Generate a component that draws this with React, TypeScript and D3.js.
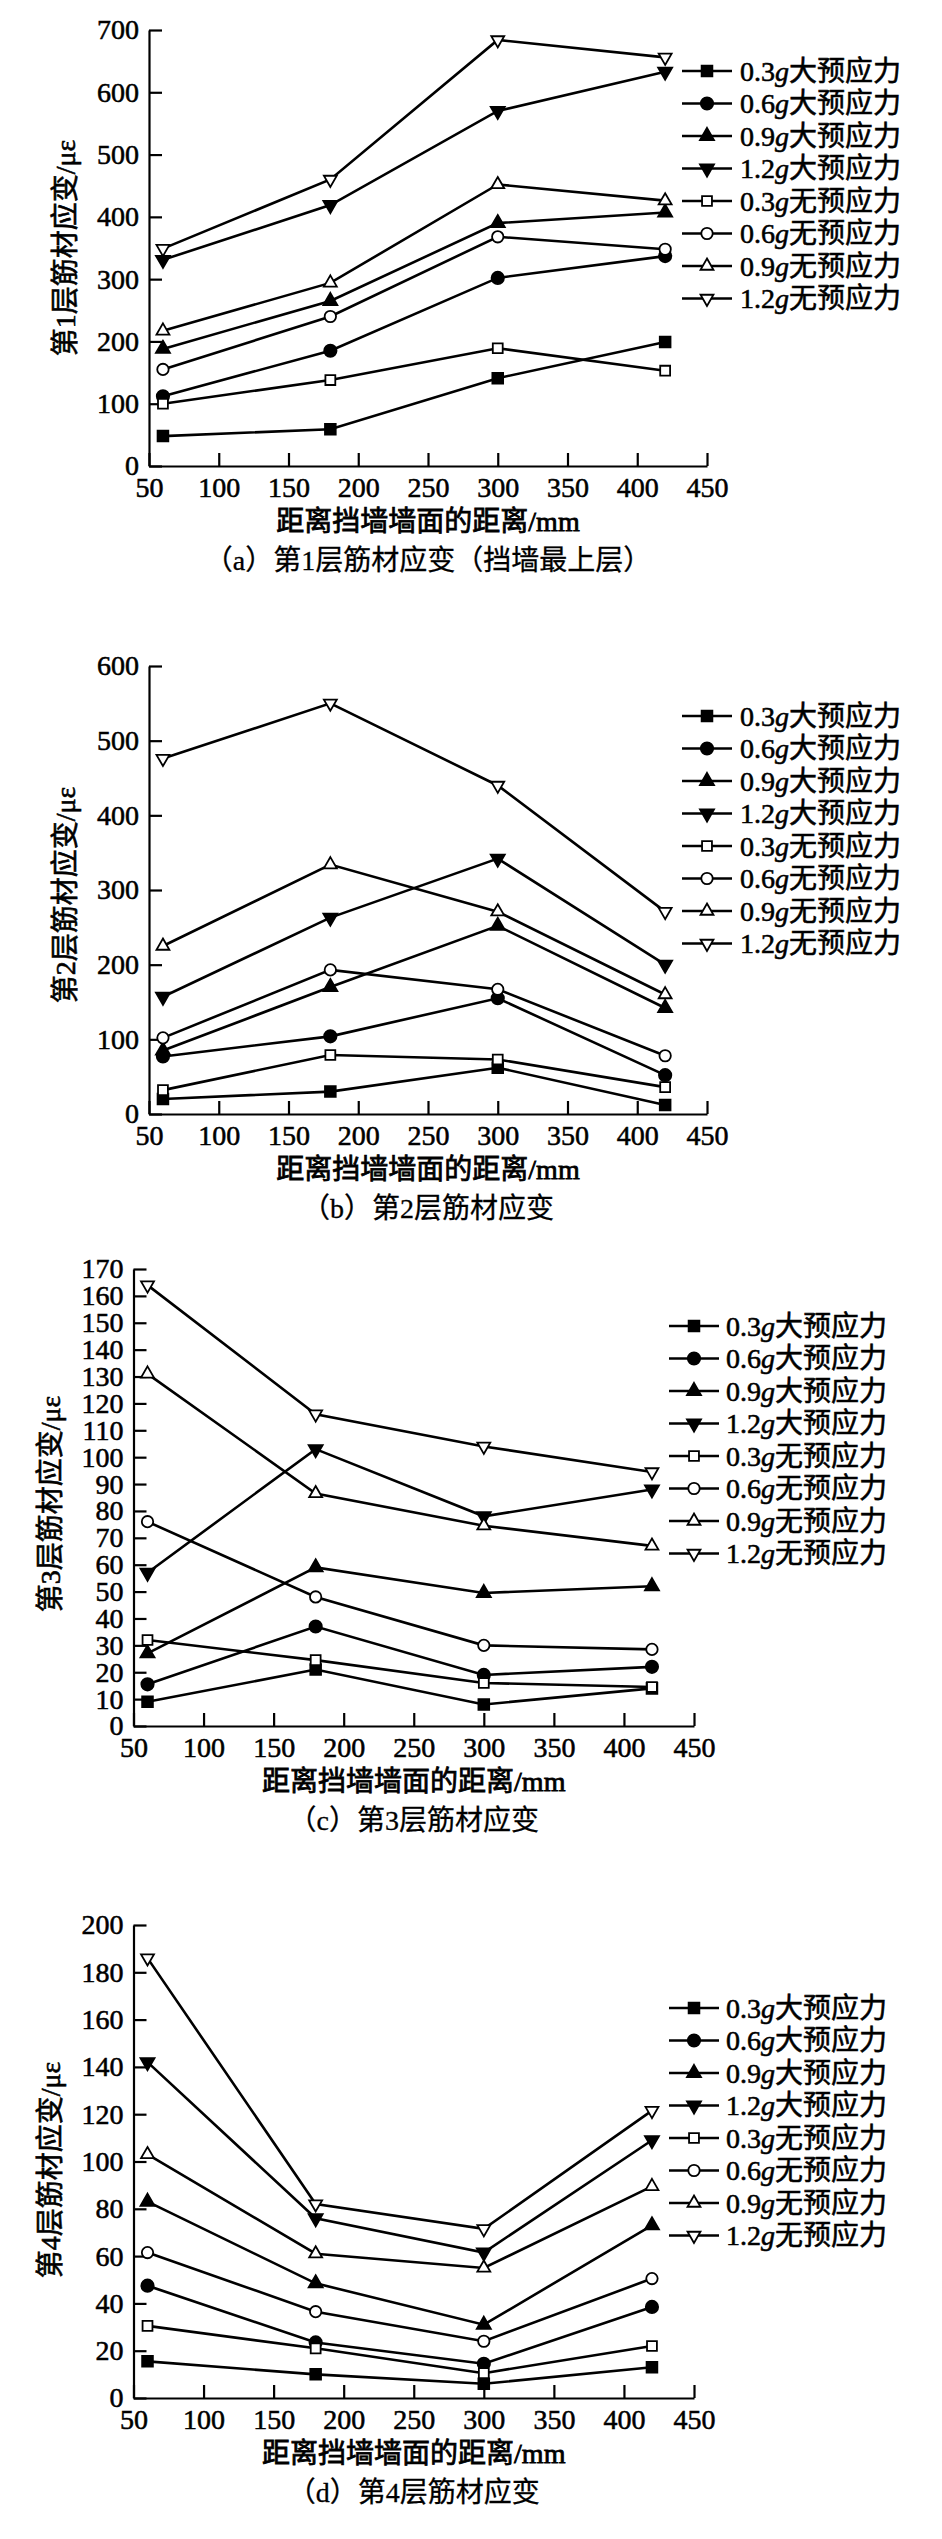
import React, { useRef, useEffect } from "react";
import * as d3 from "d3";

// distance from the retaining wall face (mm)
const distances = [60, 180, 300, 420];
const xTickValues = [50, 100, 150, 200, 250, 300, 350, 400, 450];

const accelerations = ["0.3", "0.6", "0.9", "1.2"];
const prestressLabels = ["大预应力", "无预应力"];

// series order: 0.3g/0.6g/0.9g/1.2g 大预应力, then 0.3g/0.6g/0.9g/1.2g 无预应力
const layer1Strain = [
  [48, 59, 141, 199],
  [112, 185, 302, 337],
  [188, 265, 390, 407],
  [331, 419, 570, 633],
  [100, 138, 189, 153],
  [155, 240, 368, 348],
  [217, 294, 452, 426],
  [349, 460, 684, 656],
];

const layer2Strain = [
  [20, 30, 62, 12],
  [77, 104, 155, 52],
  [85, 170, 252, 142],
  [157, 263, 342, 200],
  [32, 79, 73, 36],
  [102, 193, 167, 78],
  [225, 334, 271, 160],
  [476, 550, 440, 271],
];

const layer3Strain = [
  [9, 21, 8, 14],
  [15.5, 37, 19, 22],
  [27, 59, 49.5, 52],
  [57, 103, 78, 88],
  [32, 24.5, 16, 14.5],
  [76, 48, 30, 28.5],
  [131, 86.5, 74.5, 67],
  [164, 116, 104, 94.5],
];

const layer4Strain = [
  [15.5, 10, 6, 13],
  [47.5, 23.5, 14.5, 38.5],
  [83, 48.5, 31, 73],
  [142, 76, 61.5, 109],
  [30.5, 21, 10.5, 22],
  [61.5, 36.5, 24, 50.5],
  [103, 61, 55, 89.5],
  [186, 82, 71.5, 121.5],
];

const yAxisTitles = ["第1层筋材应变/με", "第2层筋材应变/με", "第3层筋材应变/με", "第4层筋材应变/με"];
const captions = [
  "（a）第1层筋材应变（挡墙最上层）",
  "（b）第2层筋材应变",
  "（c）第3层筋材应变",
  "（d）第4层筋材应变",
];
const xAxisTitle = "距离挡墙墙面的距离/mm";
const yMaxValues = [700, 600, 170, 200];
const yStepValues = [100, 100, 10, 20];

const FONT = "'Liberation Serif', 'Noto Sans CJK SC', serif";

// where each panel sits on the page
const panels = [
  { left: 149, right: 707, top: 30, bottom: 466, legendX: 707, legendTextX: 740, legendY: 71, yTitleX: 65, yTitleY: 248 },
  { left: 149, right: 707, top: 666, bottom: 1114, legendX: 707, legendTextX: 740, legendY: 716, yTitleX: 65, yTitleY: 895 },
  { left: 133.5, right: 694, top: 1269, bottom: 1726, legendX: 694, legendTextX: 726, legendY: 1326, yTitleX: 50, yTitleY: 1504 },
  { left: 133.5, right: 694, top: 1925, bottom: 2398, legendX: 694, legendTextX: 726, legendY: 2008, yTitleX: 50, yTitleY: 2170 },
];

const symbolShapes = [d3.symbolSquare, d3.symbolCircle, d3.symbolTriangle, d3.symbolTriangle];
const symbolSizes = [115, 120, 85, 85];

export default function App() {
  const svgRef = useRef<SVGSVGElement>(null);

  useEffect(() => {
    if (!svgRef.current) return;
    const svg = d3.select(svgRef.current);
    svg.selectAll("*").remove();

    const layers = [layer1Strain, layer2Strain, layer3Strain, layer4Strain];

    const drawMarker = (sel: any, idx: number, cx: number, cy: number) => {
      const shape = idx % 4;
      const filled = idx < 4;
      const rot = shape === 3 ? 180 : 0;
      sel
        .append("path")
        .attr("d", d3.symbol().type(symbolShapes[shape]).size(symbolSizes[shape] * (filled ? 1 : 0.85))())
        .attr("transform", `translate(${cx},${cy}) rotate(${rot})`)
        .attr("fill", filled ? "#000" : "#fff")
        .attr("stroke", "#000")
        .attr("stroke-width", 1.8);
    };

    // scanned text looks heavier than plain glyphs: thicken with a thin outline
    const heavy = (t: any, w = 0.55) => t.attr("stroke", "#000").attr("stroke-width", w).attr("fill", "#000");

    layers.forEach((series, pi) => {
      const p = panels[pi];
      const yMax = yMaxValues[pi];
      const step = yStepValues[pi];

      const x = d3.scaleLinear().domain([50, 450]).range([p.left, p.right]);
      const y = d3.scaleLinear().domain([0, yMax]).range([p.bottom, p.top]);

      const g = svg.append("g");

      // x axis, ticks pointing inwards
      const xAxis = g
        .append("g")
        .attr("transform", `translate(0,${p.bottom})`)
        .call(d3.axisBottom(x).tickValues(xTickValues).tickSize(-13).tickSizeOuter(0).tickPadding(11));
      xAxis.attr("font-size", 28).attr("font-family", FONT);
      xAxis.selectAll("path, line").attr("stroke", "#000").attr("stroke-width", 2.2);
      heavy(xAxis.selectAll("text"));

      // y axis
      const yAxis = g
        .append("g")
        .attr("transform", `translate(${p.left},0)`)
        .call(
          d3.axisLeft(y)
            .tickValues(d3.range(0, yMax + step / 2, step))
            .tickSize(-13)
            .tickSizeOuter(0)
            .tickPadding(10)
        );
      yAxis.attr("font-size", 28).attr("font-family", FONT);
      yAxis.selectAll("path, line").attr("stroke", "#000").attr("stroke-width", 2.2);
      heavy(yAxis.selectAll("text"));

      // lines
      const line = d3
        .line<number>()
        .x((_, i) => x(distances[i]))
        .y((d) => y(d));

      series.forEach((vals) => {
        g.append("path")
          .datum(vals)
          .attr("fill", "none")
          .attr("stroke", "#000")
          .attr("stroke-width", 2.6)
          .attr("d", line);
      });

      // markers on top
      series.forEach((vals, si) => {
        vals.forEach((v, i) => drawMarker(g, si, x(distances[i]), y(v)));
      });

      // legend
      series.forEach((_, si) => {
        const ly = p.legendY + si * 32.5;
        g.append("line")
          .attr("x1", p.legendX - 25)
          .attr("x2", p.legendX + 25)
          .attr("y1", ly)
          .attr("y2", ly)
          .attr("stroke", "#000")
          .attr("stroke-width", 2.6);
        drawMarker(g, si, p.legendX, ly);
        const t = g
          .append("text")
          .attr("x", p.legendTextX)
          .attr("y", ly)
          .attr("dy", "0.35em")
          .attr("font-size", 28)
          .attr("font-family", FONT);
        heavy(t);
        t.append("tspan").text(accelerations[si % 4]);
        t.append("tspan").attr("font-style", "italic").text("g");
        t.append("tspan").text(prestressLabels[si < 4 ? 0 : 1]);
      });

      // axis titles and caption
      const cx = (p.left + p.right) / 2;
      heavy(
        g.append("text")
          .attr("x", cx)
          .attr("y", p.bottom + 65)
          .attr("text-anchor", "middle")
          .attr("font-size", 28)
          .attr("font-family", FONT)
          .text(xAxisTitle),
        0.8
      );

      heavy(
        g.append("text")
          .attr("x", cx)
          .attr("y", p.bottom + 104)
          .attr("text-anchor", "middle")
          .attr("font-size", 28)
          .attr("font-family", FONT)
          .text(captions[pi]),
        0.3
      );

      heavy(
        g.append("text")
          .attr("transform", `translate(${p.yTitleX},${p.yTitleY}) rotate(-90)`)
          .attr("text-anchor", "middle")
          .attr("dy", "0.35em")
          .attr("font-size", 28)
          .attr("font-family", FONT)
          .text(yAxisTitles[pi]),
        0.6
      );
    });
  }, []);

  return (
    <svg
      ref={svgRef}
      width={942}
      height={2539}
      viewBox="0 0 942 2539"
      style={{ position: "absolute", left: 0, top: 0, background: "#fff" }}
    />
  );
}
